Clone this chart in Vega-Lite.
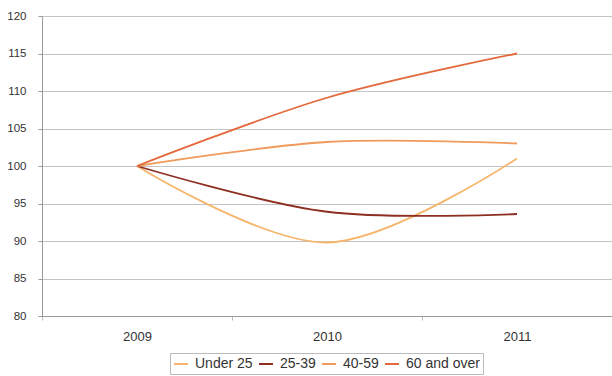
{
  "$schema": "https://vega.github.io/schema/vega-lite/v6.json",
  "width": 570,
  "height": 300,
  "autosize": {"type": "none"},
  "padding": {"left": 42, "top": 16, "right": 0, "bottom": 60},
  "background": "white",
  "config": {
    "font": "Liberation Sans",
    "view": {"stroke": null}
  },
  "data": {
    "values": [
      {"year": "2009", "group": "Under 25", "index": 100},
      {"year": "2010", "group": "Under 25", "index": 89.8},
      {"year": "2011", "group": "Under 25", "index": 101},
      {"year": "2009", "group": "25-39", "index": 100},
      {"year": "2010", "group": "25-39", "index": 93.9},
      {"year": "2011", "group": "25-39", "index": 93.6},
      {"year": "2009", "group": "40-59", "index": 100},
      {"year": "2010", "group": "40-59", "index": 103.2},
      {"year": "2011", "group": "40-59", "index": 103},
      {"year": "2009", "group": "60 and over", "index": 100},
      {"year": "2010", "group": "60 and over", "index": 109.1},
      {"year": "2011", "group": "60 and over", "index": 115}
    ]
  },
  "mark": {"type": "line", "interpolate": "catmull-rom", "strokeWidth": 1.8},
  "encoding": {
    "x": {
      "field": "year",
      "type": "ordinal",
      "scale": {"type": "band", "paddingInner": 0, "paddingOuter": 0},
      "axis": {
        "title": null,
        "labelAngle": 0,
        "labelFontSize": 13,
        "labelColor": "#333333",
        "labelPadding": 10,
        "tickBand": "extent",
        "tickSize": 4,
        "tickColor": "#bbbbbb",
        "domainColor": "#999999",
        "grid": false
      }
    },
    "y": {
      "field": "index",
      "type": "quantitative",
      "scale": {"domain": [80, 120], "nice": false, "zero": false},
      "axis": {
        "title": null,
        "values": [80, 85, 90, 95, 100, 105, 110, 115, 120],
        "labelFontSize": 11.5,
        "labelColor": "#333333",
        "labelPadding": 12,
        "tickSize": 4,
        "tickColor": "#999999",
        "domainColor": "#999999",
        "gridColor": "#c4c4c4",
        "gridWidth": 1.2
      }
    },
    "color": {
      "field": "group",
      "type": "nominal",
      "sort": ["Under 25", "25-39", "40-59", "60 and over"],
      "scale": {
        "domain": ["Under 25", "25-39", "40-59", "60 and over"],
        "range": ["#f6b56a", "#8e2f22", "#f09a5c", "#e3683a"]
      },
      "legend": {
        "title": null,
        "orient": "none",
        "legendX": 128,
        "legendY": 337,
        "direction": "horizontal",
        "symbolType": "stroke",
        "symbolSize": 196,
        "symbolStrokeWidth": 2,
        "labelFontSize": 14,
        "labelColor": "#333333",
        "columnPadding": 2,
        "labelOffset": 6,
        "padding": 3,
        "strokeColor": "#bbbbbb"
      }
    }
  }
}
